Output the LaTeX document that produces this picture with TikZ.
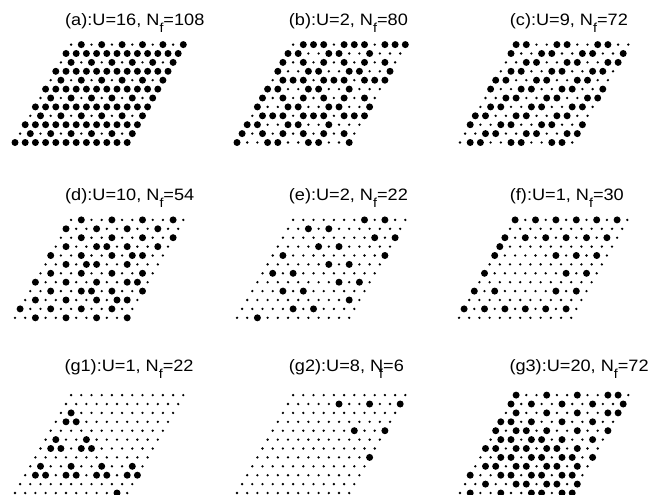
\documentclass[tikz,border=0pt]{standalone}
\usepackage{fontspec}
\newfontfamily\lblfont[FakeStretch=1.1]{Liberation Sans}
\newcommand{\fsub}{\raisebox{-7pt}{\fontsize{13pt}{13pt}\selectfont f}}
% 12x12 lattice: #1,#2 = bottom-left site, #3 = rows from top (1 = filled site)
\newcommand{\lattice}[3]{%
  \foreach \row [count=\j from 0] in {#3} {
    \foreach \v [count=\i from 0] in \row {
      \fill[site\v] ({#1+10.2*\i+5.1*(11-\j)}, {#2-8.9*(11-\j)}) circle;
    }
  }%
}
\tikzset{
  site0/.style={radius=1.3pt},
  site1/.style={radius=3.5pt},
  lbl/.style={font=\lblfont\fontsize{16.5pt}{16.5pt}\selectfont, anchor=base west, inner sep=0pt}
}

\begin{document}
\begin{tikzpicture}[x=1pt, y=-1pt]
			\fill[white] (0,0) rectangle (648,495);
			\useasboundingbox (0,0) rectangle (648,495);

			% Titles of the panels
			\node[lbl] (titleA) at (65, 25.7) {(a):U=16, N\fsub=108};
			\node[lbl] (titleB) at (288.7, 25.7) {(b):U=2, N\fsub=80};
			\node[lbl] (titleC) at (509.7, 25.7) {(c):U=9, N\fsub=72};
			\node[lbl] (titleD) at (65, 200.7) {(d):U=10, N\fsub=54};
			\node[lbl] (titleE) at (288.7, 200.7) {(e):U=2, N\fsub=22};
			\node[lbl] (titleF) at (509.7, 200.7) {(f):U=1, N\fsub=30};
			\node[lbl] (titleG1) at (64.3, 371.7) {(g1):U=1, N\fsub=22};
			\node[lbl] (titleG2) at (288.7, 371.7) {(g2):U=8, N\llap{\fsub}=6};
			\node[lbl] (titleG3) at (509.3, 371.7) {(g3):U=20, N\fsub=72};

			% (a)
			\lattice{15}{142.5}{
				{0,1,0,1,0,1,0,1,0,1,0,1},{1,1,1,1,1,1,1,1,1,1,1,1},
				{0,1,0,1,0,1,0,1,0,1,0,1},{1,1,1,1,1,1,1,1,1,1,1,1},
				{0,1,0,1,0,1,0,1,0,1,0,1},{1,1,1,1,1,1,1,1,1,1,1,1},
				{0,1,0,1,0,1,0,1,0,1,0,1},{1,1,1,1,1,1,1,1,1,1,1,1},
				{0,1,0,1,0,1,0,1,0,1,0,1},{1,1,1,1,1,1,1,1,1,1,1,1},
				{0,1,0,1,0,1,0,1,0,1,0,1},{1,1,1,1,1,1,1,1,1,1,1,1}}

			% (b)
			\lattice{237}{142.5}{
				{0,1,1,1,0,1,1,1,0,1,1,1},{1,1,0,0,1,1,0,0,1,0,0,0},
				{1,0,1,0,1,0,1,0,1,0,1,0},{1,0,0,1,1,0,0,1,1,0,0,1},
				{0,1,1,1,0,1,1,1,0,1,1,1},{1,1,0,0,1,1,0,0,1,0,0,0},
				{1,0,1,0,1,0,1,0,1,0,1,0},{1,0,0,1,1,0,0,1,1,0,0,1},
				{0,1,1,1,0,1,1,1,0,1,1,1},{1,1,0,0,1,1,0,0,1,0,0,0},
				{1,0,1,0,1,0,1,0,1,0,1,0},{1,0,0,1,1,0,0,1,1,0,0,1}}

			% (c)
			\lattice{460}{142.5}{
				{1,1,0,0,1,1,0,0,1,1,0,0},{1,0,0,1,1,0,0,1,1,0,0,1},
				{0,0,1,1,0,0,1,1,0,0,1,1},{0,1,1,0,0,1,1,0,0,1,1,0},
				{1,1,0,0,1,1,0,0,1,1,0,0},{1,0,0,1,1,0,0,1,1,0,0,1},
				{0,0,1,1,0,0,1,1,0,0,1,1},{0,1,1,0,0,1,1,0,0,1,1,0},
				{1,1,0,0,1,1,0,0,1,1,0,0},{1,0,0,1,1,0,0,1,1,0,0,1},
				{0,0,1,1,0,0,1,1,0,0,1,1},{0,1,1,0,0,1,1,0,0,1,1,0}}

			% (d)
			\lattice{15}{317.8}{
				{0,1,0,0,1,0,0,1,0,0,1,0},{1,0,0,1,0,0,1,0,0,1,0,0},
				{0,0,1,0,0,1,0,0,1,0,0,1},{0,1,0,0,1,1,0,1,0,0,1,0},
				{1,0,0,1,0,0,1,0,1,1,0,0},{0,0,1,0,1,1,0,0,1,0,0,0},
				{0,1,0,0,1,0,0,1,0,0,1,0},{1,0,0,1,0,0,1,0,0,1,1,0},
				{0,0,1,0,0,1,1,0,1,0,0,1},{0,1,0,0,1,0,0,1,0,1,1,0},
				{1,0,0,1,0,0,1,0,0,1,0,0},{0,0,1,0,0,1,0,0,1,0,0,1}}

			% (e)
			\lattice{237}{317.8}{
				{0,0,0,0,0,0,0,1,0,1,0,0},{0,0,1,0,1,0,0,0,0,0,0,0},
				{0,0,0,0,0,0,0,0,0,1,0,1},{0,0,0,0,1,0,1,0,0,0,0,0},
				{0,1,0,0,0,0,0,0,0,0,0,1},{0,0,0,0,0,0,1,0,1,0,0,0},
				{0,1,0,1,0,0,0,0,0,0,0,0},{0,0,0,0,0,0,0,0,1,0,1,0},
				{0,0,0,1,0,1,0,0,0,0,0,0},{0,0,0,0,0,0,0,0,0,0,1,0},
				{0,0,0,0,0,1,0,1,0,0,0,0},{0,0,1,0,0,0,0,0,0,0,0,0}}

			% (f)
			\lattice{459}{317.8}{
				{1,0,1,0,1,0,1,0,1,0,1,0},{0,0,0,0,0,0,0,0,0,0,0,0},
				{1,0,1,0,1,0,1,0,1,0,1,0},{1,0,0,0,0,0,0,0,0,0,0,0},
				{1,0,0,0,0,0,1,0,1,0,1,0},{0,0,0,0,0,0,0,0,0,0,0,0},
				{1,0,0,0,0,0,0,0,1,0,1,0},{0,0,0,0,0,0,0,0,0,0,0,0},
				{1,0,1,0,0,0,0,0,1,0,1,0},{0,0,0,0,0,0,0,0,0,0,0,0},
				{1,0,1,0,1,0,1,0,1,0,1,0},{0,0,0,0,0,0,0,0,0,0,0,0}}

			% (g1)
			\lattice{15}{493}{
				{0,0,0,0,0,0,0,0,0,0,0,0},{0,0,0,0,0,0,0,0,0,0,0,0},
				{0,1,0,0,0,0,0,0,0,0,0,0},{0,1,1,0,0,0,0,0,0,0,0,0},
				{0,0,0,0,0,0,0,0,0,0,0,0},{0,1,0,0,1,0,0,0,0,0,0,0},
				{0,1,1,0,1,1,0,0,0,0,0,0},{0,0,0,0,0,0,0,0,0,0,0,0},
				{0,1,0,0,1,0,0,1,0,0,1,0},{0,1,1,0,1,1,0,1,1,0,1,1},
				{0,0,0,0,0,0,0,0,0,0,0,0},{0,0,0,0,0,0,0,0,0,0,1,0}}

			% (g2)
			\lattice{237}{493}{
				{0,0,0,0,0,0,0,0,0,0,0,0},{0,0,0,0,0,1,0,0,1,0,0,1},
				{0,0,0,0,0,0,0,0,0,0,0,0},{0,0,0,0,0,0,0,0,0,0,0,0},
				{0,0,0,0,0,0,0,0,1,0,0,1},{0,0,0,0,0,0,0,0,0,0,0,0},
				{0,0,0,0,0,0,0,0,0,0,0,0},{0,0,0,0,0,0,0,0,0,0,0,1},
				{0,0,0,0,0,0,0,0,0,0,0,0},{0,0,0,0,0,0,0,0,0,0,0,0},
				{0,0,0,0,0,0,0,0,0,0,0,0},{0,0,0,0,0,0,0,0,0,0,0,0}}

			% (g3)
			\lattice{460}{493}{
				{1,0,0,1,0,0,1,0,0,1,1,0},{1,0,1,0,0,1,0,0,1,0,0,1},
				{0,1,0,0,1,0,0,1,0,0,1,1},{1,1,0,1,0,0,1,0,0,1,0,0},
				{1,0,1,1,0,1,0,0,1,0,0,1},{0,1,1,0,1,1,0,1,0,0,1,0},
				{1,1,0,1,1,0,1,1,0,1,0,0},{0,0,1,1,0,1,1,0,1,1,0,1},
				{0,1,1,0,1,1,0,1,1,0,1,0},{1,0,0,1,1,0,1,1,0,1,1,0},
				{0,0,1,0,0,1,1,0,1,1,0,1},{0,1,0,0,1,0,0,1,1,0,1,1}}
		\end{tikzpicture}
\end{document}
